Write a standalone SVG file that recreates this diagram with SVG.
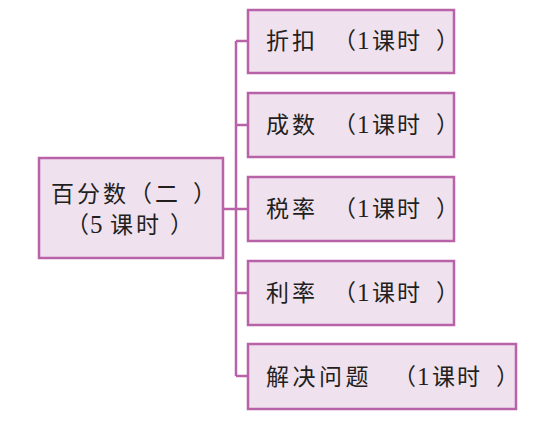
<svg xmlns="http://www.w3.org/2000/svg" width="536" height="430" viewBox="0 0 536 430">
<style>
.box{fill:#f0e1ef;stroke:#b862a8;stroke-width:2.5}
.ln{fill:none;stroke:#b862a8;stroke-width:2.5}
text{font-family:"Noto Sans CJK SC",sans-serif;font-size:23px;fill:#231f20}
.n{font-family:"Liberation Serif","Noto Sans CJK SC",serif;font-size:25px}
</style>
<rect width="536" height="430" fill="#ffffff"/>
<g id="connectors">
<path class="ln" d="M223 209H236M236 41V376M236 41H248M236 125H248M236 209H248M236 293H248M236 376H248"/>
</g>
<g id="root">
<rect class="box" x="39" y="158" width="184" height="100"/>
<text y="202"><tspan x="51 77 103 129 155 193">百分数（二）</tspan></text>
<text y="233"><tspan x="66">（</tspan><tspan class="n" x="90">5</tspan><tspan x="110 136 170">课时）</tspan></text>
</g>
<g id="n1">
<rect class="box" x="248" y="10" width="206" height="63"/>
<text y="49"><tspan x="266 292">折扣</tspan><tspan x="333">（</tspan><tspan class="n" x="357">1</tspan><tspan x="372 397 436">课时）</tspan></text>
</g>
<g id="n2">
<rect class="box" x="248" y="93" width="206" height="64"/>
<text y="133"><tspan x="266 292">成数</tspan><tspan x="333">（</tspan><tspan class="n" x="357">1</tspan><tspan x="372 397 436">课时）</tspan></text>
</g>
<g id="n3">
<rect class="box" x="248" y="177" width="206" height="64"/>
<text y="217"><tspan x="266 292">税率</tspan><tspan x="333">（</tspan><tspan class="n" x="357">1</tspan><tspan x="372 397 436">课时）</tspan></text>
</g>
<g id="n4">
<rect class="box" x="248" y="261" width="206" height="64"/>
<text y="301"><tspan x="266 292">利率</tspan><tspan x="333">（</tspan><tspan class="n" x="357">1</tspan><tspan x="372 397 436">课时）</tspan></text>
</g>
<g id="n5">
<rect class="box" x="248" y="344" width="268" height="65"/>
<text y="385"><tspan x="266 292.5 319 345.5">解决问题</tspan><tspan x="393">（</tspan><tspan class="n" x="417">1</tspan><tspan x="432 457 496">课时）</tspan></text>
</g>
</svg>
